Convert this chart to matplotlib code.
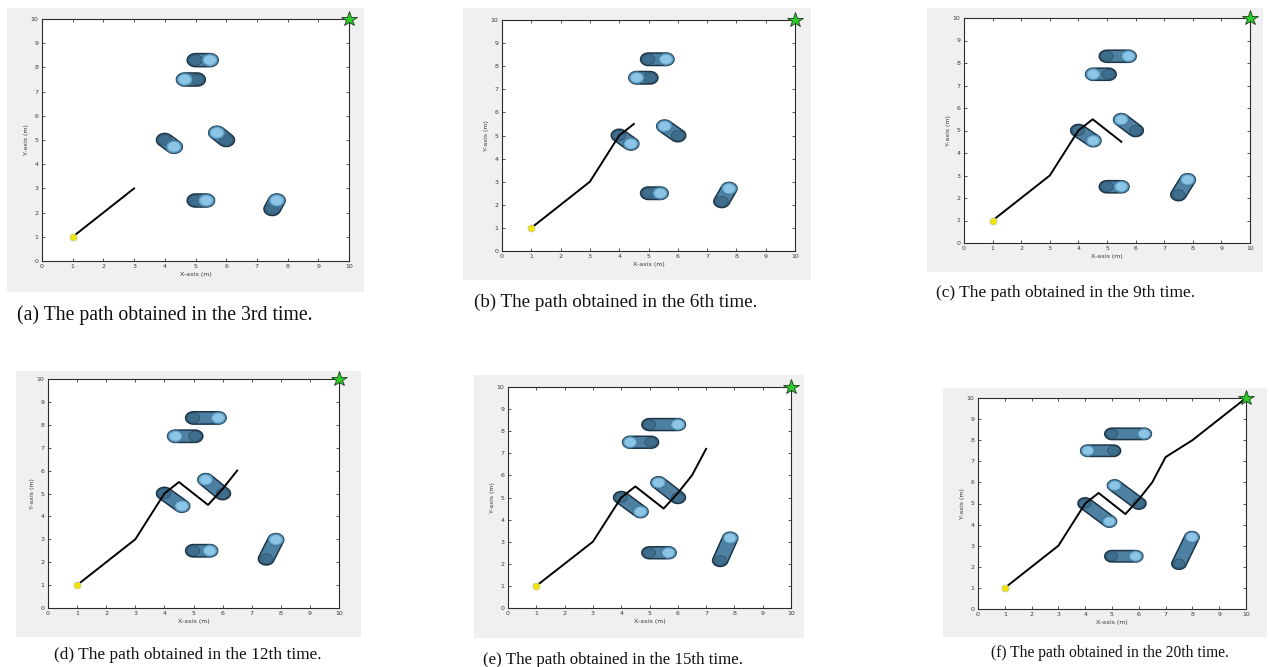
import numpy as np
import matplotlib
matplotlib.use("Agg")
import matplotlib.pyplot as plt
from matplotlib.patches import Polygon, Circle, Rectangle

W, H = 1269, 667

# Planned path (shared by every iteration; each panel shows a longer prefix)
path_x = [1, 2, 3, 4, 4.5, 5.5, 6, 6.5, 7, 8, 10]
path_y = [1, 2, 3, 5, 5.5, 4.5, 5.2, 6, 7.2, 8, 10]
path_points_shown = [3, 5, 6, 8, 9, 11]

start_pt = (1, 1)
goal_pt = (10, 10)

captions = [
    "(a) The path obtained in the 3rd time.",
    "(b) The path obtained in the 6th time.",
    "(c) The path obtained in the 9th time.",
    "(d) The path obtained in the 12th time.",
    "(e) The path obtained in the 15th time.",
    "(f) The path obtained in the 20th time.",
]

# Moving obstacles: initial centres
obs_start_x = [5.0, 5.05, 4.0, 6.0, 5.0, 7.5]
obs_start_y = [8.3, 7.5, 5.0, 5.0, 2.5, 2.15]
obs_radius = 0.27

# Current obstacle centres in each panel (a)..(f), one list per obstacle
obs1_x = [5.47, 5.6, 5.75, 5.85, 6.0, 6.2]
obs1_y = [8.3, 8.3, 8.3, 8.3, 8.3, 8.3]
obs2_x = [4.65, 4.6, 4.52, 4.38, 4.32, 4.1]
obs2_y = [7.5, 7.5, 7.5, 7.5, 7.5, 7.5]
obs3_x = [4.3, 4.4, 4.52, 4.6, 4.68, 4.9]
obs3_y = [4.72, 4.64, 4.55, 4.45, 4.36, 4.15]
obs4_x = [5.7, 5.55, 5.5, 5.42, 5.32, 5.1]
obs4_y = [5.3, 5.4, 5.48, 5.6, 5.67, 5.85]
obs5_x = [5.35, 5.4, 5.5, 5.56, 5.67, 5.88]
obs5_y = [2.5, 2.5, 2.5, 2.5, 2.5, 2.5]
obs6_x = [7.65, 7.75, 7.82, 7.83, 7.85, 7.98]
obs6_y = [2.5, 2.7, 2.81, 2.98, 3.16, 3.4]

obs_end_x = [obs1_x, obs2_x, obs3_x, obs4_x, obs5_x, obs6_x]
obs_end_y = [obs1_y, obs2_y, obs3_y, obs4_y, obs5_y, obs6_y]

ticks = list(range(0, 11))

# Panel layout in pixels: (left, top, right, bottom)
panel_bg = [(7, 8, 364, 292), (463, 8, 811, 280), (927, 8, 1263, 272),
            (16, 371, 361, 637), (474, 375, 804, 638), (943, 388, 1267, 637)]
panel_ax = [(42, 19, 349, 261), (502, 20, 795, 251), (964, 18, 1250, 243),
            (48, 379, 339, 608), (508, 387, 791, 608), (978, 398, 1246, 609)]
caption_pos = [(165, 315), (616, 302), (1066, 293),
               (188, 655), (613, 660), (1110, 653)]
caption_size = [14.2, 13.7, 12.5, 12.45, 12.2, 11.2]

fig = plt.figure(figsize=(W / 100, H / 100), dpi=100)
fig.patch.set_facecolor("white")


def fig_rect(l, t, r, b):
    return [l / W, 1 - b / H, (r - l) / W, (b - t) / H]


def capsule(ax, x0, y0, x1, y1, r):
    ang = np.arctan2(y1 - y0, x1 - x0)
    t1 = np.linspace(ang - np.pi / 2, ang + np.pi / 2, 40)
    t0 = np.linspace(ang + np.pi / 2, ang + 3 * np.pi / 2, 40)
    pts = np.concatenate([
        np.c_[x1 + r * np.cos(t1), y1 + r * np.sin(t1)],
        np.c_[x0 + r * np.cos(t0), y0 + r * np.sin(t0)],
    ])
    ax.add_patch(Polygon(pts, closed=True, fc="#4d80a1", ec="#1c3446",
                         lw=1.1, zorder=2))
    # trailing end of the swept body
    ax.add_patch(Circle((x0, y0), r * 0.8, fc="#3f6e8d", ec="#2a4c63",
                        lw=0.5, zorder=2.1))
    # current obstacle position
    ax.add_patch(Circle((x1, y1), r * 0.96, fc="#66a3c8", ec="#3e7596",
                        lw=0.6, zorder=3))
    ax.add_patch(Circle((x1, y1), r * 0.72, fc="#8cc5e6", ec="none", zorder=3.1))


for i in range(6):
    l, t, r, b = panel_bg[i]
    fig.add_artist(Rectangle((l / W, 1 - b / H), (r - l) / W, (b - t) / H,
                             transform=fig.transFigure, fc="#f0f0f0",
                             ec="none", zorder=0))
    ax = fig.add_axes(fig_rect(*panel_ax[i]))
    ax.set_facecolor("white")
    ax.set_xlim(0, 10)
    ax.set_ylim(0, 10)
    ax.set_xticks(ticks)
    ax.set_yticks(ticks)
    ax.tick_params(direction="in", length=2.2, width=0.6, top=True, right=True,
                   labelsize=4.5, pad=2.5, colors="#3a3a3a")
    for s in ax.spines.values():
        s.set_color("#2b2b2b")
        s.set_linewidth(0.8)
    ax.set_xlabel("X-axis (m)", fontsize=4.5, labelpad=1.5, color="#3a3a3a")
    ax.set_ylabel("Y-axis (m)", fontsize=4.5, labelpad=1.5, color="#3a3a3a")

    for k in range(6):
        capsule(ax, obs_start_x[k], obs_start_y[k],
                obs_end_x[k][i], obs_end_y[k][i], obs_radius)

    n = path_points_shown[i]
    ax.plot(path_x[:n], path_y[:n], color="black", lw=1.4, zorder=4)
    ax.plot(*start_pt, marker="o", ms=5, mfc="#f2e600", mec="#c8c8a8",
            mew=0.6, zorder=5, clip_on=False)
    ax.plot(*goal_pt, marker="*", ms=11.5, mfc="#2ccc2c", mec="#1c3c1c",
            mew=0.6, zorder=5, clip_on=False)

    cx, cy = caption_pos[i]
    fig.text(cx / W, 1 - cy / H, captions[i], ha="center", va="center",
             fontsize=caption_size[i], family="Liberation Serif", color="#111111")

fig.savefig("out.png", dpi=100)
